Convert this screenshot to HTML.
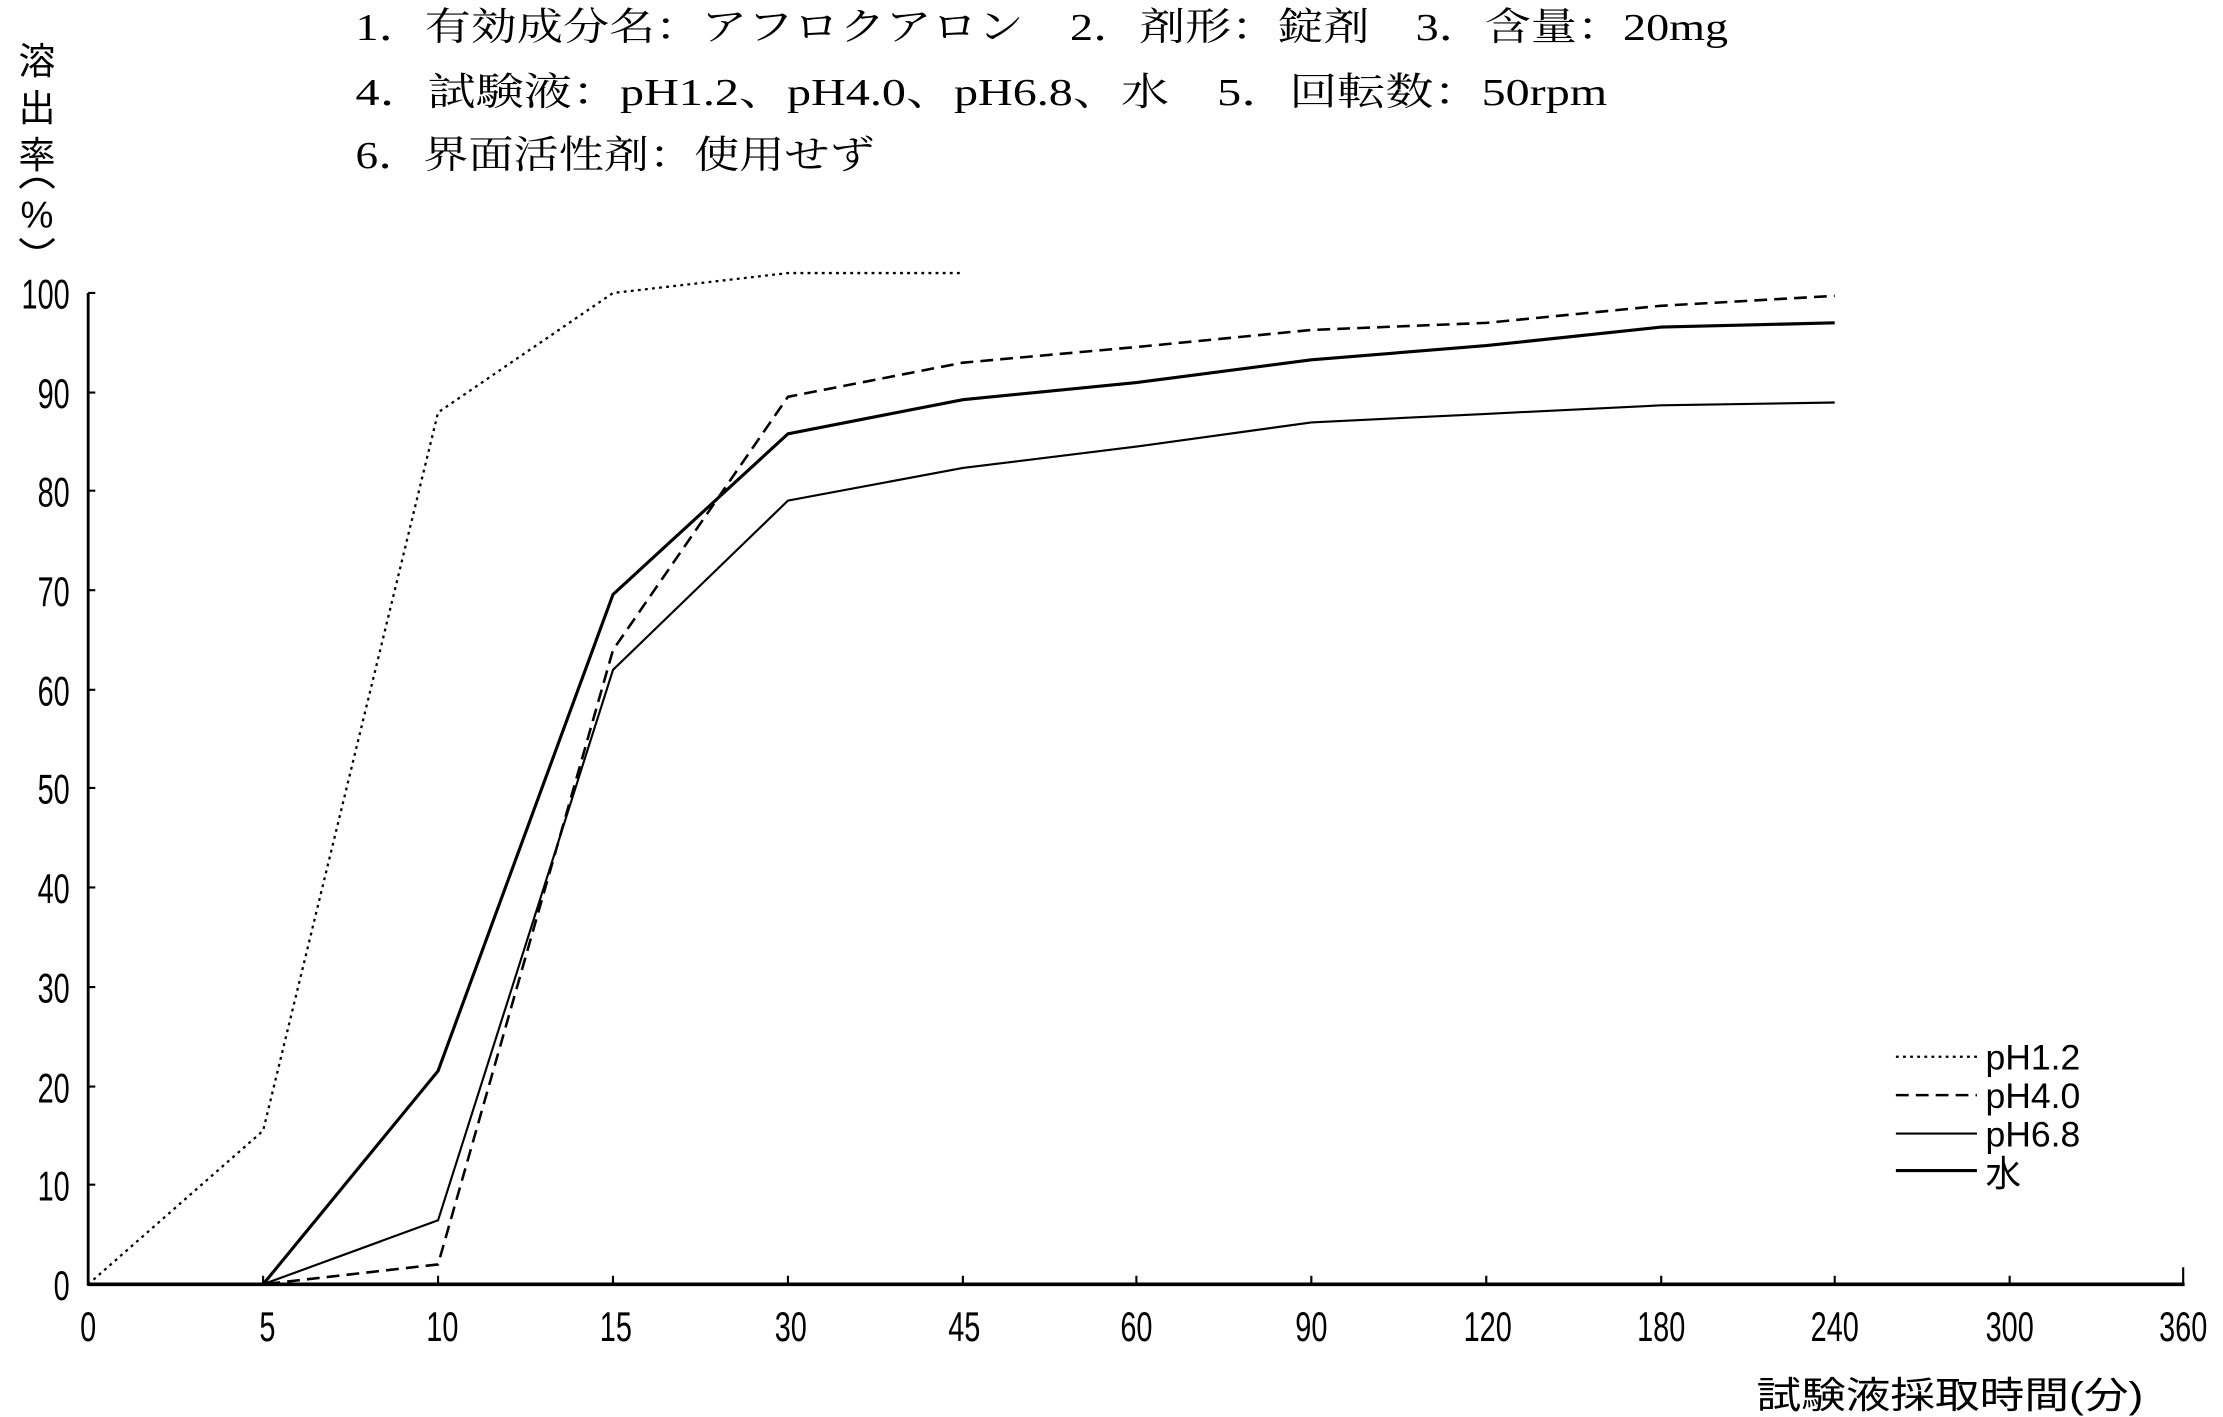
<!DOCTYPE html>
<html><head><meta charset="utf-8"><style>html,body{margin:0;padding:0;background:#fff}svg{display:block}</style></head>
<body>
<svg width="2223" height="1417" viewBox="0 0 1563 996.3" preserveAspectRatio="none" xmlns="http://www.w3.org/2000/svg" font-family="'Liberation Serif','Noto Serif CJK SC','Noto Sans CJK JP',serif" fill="#000">
<g font-size="27">
<text x="250" y="28" textLength="965" lengthAdjust="spacingAndGlyphs">1．有効成分名：アフロクアロン　2．剤形：錠剤　3．含量：20mg</text>
<text x="250" y="74" textLength="880" lengthAdjust="spacingAndGlyphs">4．試験液：pH1.2、pH4.0、pH6.8、水　5．回転数：50rpm</text>
<text x="250" y="118" textLength="365" lengthAdjust="spacingAndGlyphs">6．界面活性剤：使用せず</text>
</g>
<g font-size="26" text-anchor="middle" font-family="'Liberation Sans','Noto Sans CJK JP',sans-serif">
<text x="26" y="52">溶</text><text x="26" y="85">出</text><text x="26" y="118">率</text>
<text x="26" y="160">%</text>
</g>
<path d="M14 132 Q26 120 38 132" stroke="#000" stroke-width="2" fill="none"/>
<path d="M14 168 Q26 180 38 168" stroke="#000" stroke-width="2" fill="none"/>
<g stroke="#000" fill="none">
<line x1="62" y1="206" x2="62" y2="904" stroke-width="2"/>
<line x1="62" y1="903" x2="1536" y2="903" stroke-width="2.5"/>
<g stroke-width="1.5">
<path d="M62 206h5M62 276h5M62 345h5M62 415h5M62 485h5M62 554h5M62 624h5M62 694h5M62 764h5M62 833h5"/>
<path d="M185 903v-6M308 903v-6M431 903v-6M554 903v-6M677 903v-6M799 903v-6M922 903v-6M1045 903v-6M1168 903v-6M1290 903v-6M1413 903v-6M1535 903v-12"/>
</g>
<polyline stroke-width="1.6" stroke-dasharray="2,3" points="62,903 185,795 308,290 431,206 554,192 677,192"/>
<polyline stroke-width="1.8" stroke-dasharray="9,5" points="62,903 185,903 308,889 431,457 554,279 677,255 799,244 922,232 1045,227 1168,215 1290,208"/>
<polyline stroke-width="1.5" points="62,903 185,903 308,858 431,471 554,352 677,329 799,314 922,297 1045,291 1168,285 1290,283"/>
<polyline stroke-width="2.2" points="62,903 185,903 308,753 431,418 554,305 677,281 799,269 922,253 1045,243 1168,230 1290,227"/>
<line x1="1333" y1="743" x2="1390" y2="743" stroke-width="1.6" stroke-dasharray="2,3"/>
<line x1="1333" y1="770" x2="1390" y2="770" stroke-width="1.8" stroke-dasharray="9,5"/>
<line x1="1333" y1="797" x2="1390" y2="797" stroke-width="1.5"/>
<line x1="1333" y1="823" x2="1390" y2="823" stroke-width="2.2"/>
</g>
<g font-family="'Liberation Sans','Noto Sans CJK JP',sans-serif" font-size="25">
<text x="1396" y="752">pH1.2</text><text x="1396" y="779">pH4.0</text><text x="1396" y="806">pH6.8</text><text x="1396" y="834">水</text>
</g>
<g font-family="'Liberation Sans',sans-serif" font-size="29" text-anchor="end" transform="scale(0.7,1)">
<text x="70" y="217">100</text><text x="70" y="287">90</text><text x="70" y="356">80</text><text x="70" y="426">70</text><text x="70" y="496">60</text><text x="70" y="565">50</text><text x="70" y="635">40</text><text x="70" y="705">30</text><text x="70" y="775">20</text><text x="70" y="844">10</text><text x="70" y="914">0</text>
</g>
<g font-family="'Liberation Sans',sans-serif" font-size="29" text-anchor="middle">
<g transform="translate(62,943) scale(0.7,1)"><text>0</text></g>
<g transform="translate(188,943) scale(0.7,1)"><text>5</text></g>
<g transform="translate(311,943) scale(0.7,1)"><text>10</text></g>
<g transform="translate(433,943) scale(0.7,1)"><text>15</text></g>
<g transform="translate(556,943) scale(0.7,1)"><text>30</text></g>
<g transform="translate(678,943) scale(0.7,1)"><text>45</text></g>
<g transform="translate(799,943) scale(0.7,1)"><text>60</text></g>
<g transform="translate(922,943) scale(0.7,1)"><text>90</text></g>
<g transform="translate(1046,943) scale(0.7,1)"><text>120</text></g>
<g transform="translate(1168,943) scale(0.7,1)"><text>180</text></g>
<g transform="translate(1290,943) scale(0.7,1)"><text>240</text></g>
<g transform="translate(1413,943) scale(0.7,1)"><text>300</text></g>
<g transform="translate(1535,943) scale(0.7,1)"><text>360</text></g>
</g>
<text x="1235" y="990" font-size="26" textLength="272" lengthAdjust="spacingAndGlyphs" font-family="'Liberation Sans','Noto Sans CJK JP',sans-serif">試験液採取時間(分)</text>
</svg>
</body></html>
